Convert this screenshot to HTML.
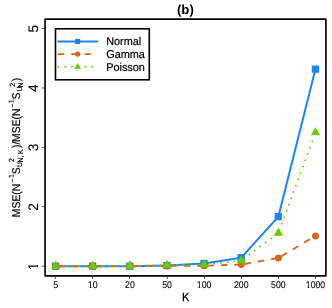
<!DOCTYPE html>
<html><head><meta charset="utf-8"><title>(b)</title>
<style>
html,body{margin:0;padding:0;background:#fff;}
body{width:332px;height:308px;overflow:hidden;}
svg{display:block;will-change:transform;}
text{text-rendering:geometricPrecision;font-family:"Liberation Sans",sans-serif;fill:#000;stroke:#000;stroke-width:0.25px;}
</style></head><body>
<svg width="332" height="308" viewBox="0 0 332 308">
<defs><clipPath id="c0"><path d="M-7.45,-11.76 H7.45 V-0.78 H-1.87 V1 H-3.24 V-0.78 H-7.45 Z M0.00,-0.88 H7.45 V3.92 H0.00 Z"/></clipPath><clipPath id="c1"><path d="M-10.18,-11.76 H10.18 V-0.78 H-4.59 V1 H-5.96 V-0.78 H-10.18 Z M-2.73,-0.88 H10.18 V3.92 H-2.73 Z"/></clipPath><clipPath id="c2"><path d="M-12.90,-11.76 H12.90 V-0.78 H-7.32 V1 H-8.69 V-0.78 H-12.90 Z M-5.45,-0.88 H12.90 V3.92 H-5.45 Z"/></clipPath><clipPath id="c3"><path d="M-5.84,-16.56 H5.84 V-1.08 H1.10 V1 H-0.62 V-1.08 H-5.84 Z M3.84,-1.18 H5.84 V5.52 H3.84 Z"/></clipPath><clipPath id="c4"><path d="M-2.00,-9.00 H6.17 V-0.61 H2.80 V1 H1.64 V-0.61 H-2.00 Z M4.17,-0.71 H6.17 V3.00 H4.17 Z"/></clipPath><clipPath id="c5"><path d="M-2.00,-9.00 H6.17 V-0.61 H2.80 V1 H1.64 V-0.61 H-2.00 Z M4.17,-0.71 H6.17 V3.00 H4.17 Z"/></clipPath></defs>
<rect x="0" y="0" width="332" height="308" fill="#fff"/>
<text transform="translate(185.40,14.40)" font-size="13.2" text-anchor="middle" font-weight="bold" style="stroke-width:0">(b)</text>
<polyline points="55.65,266.20 92.77,266.15 129.89,266.15 167.01,265.55 204.13,263.45 241.25,257.70 278.37,216.60 315.49,69.10" fill="none" stroke="#1C86EE" stroke-width="2.0" stroke-linejoin="round" stroke-linecap="round"/>
<line x1="59.65" y1="266.20" x2="88.77" y2="266.20" stroke="#D2691E" stroke-width="1.9" stroke-dasharray="5.05 8.45" stroke-linecap="round"/>
<line x1="96.77" y1="266.19" x2="125.89" y2="266.11" stroke="#D2691E" stroke-width="1.9" stroke-dasharray="5.05 8.45" stroke-linecap="round"/>
<line x1="133.89" y1="266.08" x2="163.01" y2="265.97" stroke="#D2691E" stroke-width="1.9" stroke-dasharray="5.05 8.45" stroke-linecap="round"/>
<line x1="171.01" y1="265.92" x2="200.13" y2="265.73" stroke="#D2691E" stroke-width="1.9" stroke-dasharray="5.05 8.45" stroke-linecap="round"/>
<line x1="208.13" y1="265.58" x2="237.25" y2="264.67" stroke="#D2691E" stroke-width="1.9" stroke-dasharray="5.05 8.45" stroke-linecap="round"/>
<line x1="245.19" y1="263.85" x2="274.43" y2="258.70" stroke="#D2691E" stroke-width="1.9" stroke-dasharray="5.05 8.45" stroke-linecap="round"/>
<line x1="281.81" y1="255.95" x2="312.05" y2="237.95" stroke="#D2691E" stroke-width="1.9" stroke-dasharray="5.05 8.45" stroke-linecap="round"/>
<line x1="59.00" y1="266.19" x2="89.42" y2="266.11" stroke="#66CD00" stroke-width="1.9" stroke-dasharray="0.01 6.74" stroke-linecap="round"/>
<line x1="96.12" y1="266.07" x2="126.54" y2="265.83" stroke="#66CD00" stroke-width="1.9" stroke-dasharray="0.01 6.74" stroke-linecap="round"/>
<line x1="133.24" y1="265.74" x2="163.66" y2="265.21" stroke="#66CD00" stroke-width="1.9" stroke-dasharray="0.01 6.74" stroke-linecap="round"/>
<line x1="170.36" y1="265.10" x2="200.78" y2="264.70" stroke="#66CD00" stroke-width="1.9" stroke-dasharray="0.01 6.74" stroke-linecap="round"/>
<line x1="207.46" y1="264.29" x2="237.92" y2="260.96" stroke="#66CD00" stroke-width="1.9" stroke-dasharray="0.01 6.74" stroke-linecap="round"/>
<line x1="243.94" y1="258.61" x2="275.68" y2="235.09" stroke="#66CD00" stroke-width="1.9" stroke-dasharray="0.01 6.74" stroke-linecap="round"/>
<line x1="279.53" y1="229.96" x2="314.33" y2="135.74" stroke="#66CD00" stroke-width="1.9" stroke-dasharray="0.01 6.74" stroke-linecap="round"/>
<rect x="51.91" y="262.56" width="7.28" height="7.28" fill="#1C86EE"/>
<rect x="89.03" y="262.51" width="7.28" height="7.28" fill="#1C86EE"/>
<rect x="126.15" y="262.51" width="7.28" height="7.28" fill="#1C86EE"/>
<rect x="163.27" y="261.91" width="7.28" height="7.28" fill="#1C86EE"/>
<rect x="200.39" y="259.81" width="7.28" height="7.28" fill="#1C86EE"/>
<rect x="237.51" y="254.06" width="7.28" height="7.28" fill="#1C86EE"/>
<rect x="274.63" y="212.96" width="7.28" height="7.28" fill="#1C86EE"/>
<rect x="311.75" y="65.46" width="7.28" height="7.28" fill="#1C86EE"/>
<circle cx="55.65" cy="266.20" r="3.50" fill="#D2691E"/>
<circle cx="92.77" cy="266.20" r="3.50" fill="#D2691E"/>
<circle cx="129.89" cy="266.10" r="3.50" fill="#D2691E"/>
<circle cx="167.01" cy="265.95" r="3.50" fill="#D2691E"/>
<circle cx="204.13" cy="265.70" r="3.50" fill="#D2691E"/>
<circle cx="241.25" cy="264.55" r="3.50" fill="#D2691E"/>
<circle cx="278.37" cy="258.00" r="3.50" fill="#D2691E"/>
<circle cx="315.49" cy="235.90" r="3.50" fill="#D2691E"/>
<polygon points="55.65,260.76 60.36,268.92 50.94,268.92" fill="#66CD00"/>
<polygon points="92.77,260.66 97.48,268.82 88.06,268.82" fill="#66CD00"/>
<polygon points="129.89,260.36 134.60,268.52 125.18,268.52" fill="#66CD00"/>
<polygon points="167.01,259.71 171.72,267.87 162.30,267.87" fill="#66CD00"/>
<polygon points="204.13,259.21 208.84,267.37 199.42,267.37" fill="#66CD00"/>
<polygon points="241.25,255.16 245.96,263.32 236.54,263.32" fill="#66CD00"/>
<polygon points="278.37,227.66 283.08,235.82 273.66,235.82" fill="#66CD00"/>
<polygon points="315.49,127.16 320.20,135.32 310.78,135.32" fill="#66CD00"/>
<rect x="45.05" y="19.15" width="280.85" height="256.75" fill="none" stroke="#000" stroke-width="1.65" stroke-linejoin="round"/>
<line x1="55.50" y1="276.5" x2="55.50" y2="278.9" stroke="#222" stroke-width="0.75"/>
<line x1="92.50" y1="276.5" x2="92.50" y2="278.9" stroke="#222" stroke-width="0.75"/>
<line x1="129.50" y1="276.5" x2="129.50" y2="278.9" stroke="#222" stroke-width="0.75"/>
<line x1="167.50" y1="276.5" x2="167.50" y2="278.9" stroke="#222" stroke-width="0.75"/>
<line x1="204.50" y1="276.5" x2="204.50" y2="278.9" stroke="#222" stroke-width="0.75"/>
<line x1="241.50" y1="276.5" x2="241.50" y2="278.9" stroke="#222" stroke-width="0.75"/>
<line x1="278.50" y1="276.5" x2="278.50" y2="278.9" stroke="#222" stroke-width="0.75"/>
<line x1="315.50" y1="276.5" x2="315.50" y2="278.9" stroke="#222" stroke-width="0.75"/>
<line x1="41.4" y1="266.20" x2="44.3" y2="266.20" stroke="#222" stroke-width="0.7"/>
<line x1="41.4" y1="206.78" x2="44.3" y2="206.78" stroke="#222" stroke-width="0.7"/>
<line x1="41.4" y1="147.36" x2="44.3" y2="147.36" stroke="#222" stroke-width="0.7"/>
<line x1="41.4" y1="87.94" x2="44.3" y2="87.94" stroke="#222" stroke-width="0.7"/>
<line x1="41.4" y1="28.52" x2="44.3" y2="28.52" stroke="#222" stroke-width="0.7"/>
<text transform="translate(55.65,288.00) scale(0.89,1)" font-size="9.8" text-anchor="middle" style="stroke-width:0.1">5</text>
<text transform="translate(92.77,288.00) scale(0.89,1)" font-size="9.8" text-anchor="middle" style="stroke-width:0.1" clip-path="url(#c0)">10</text>
<text transform="translate(129.89,288.00) scale(0.89,1)" font-size="9.8" text-anchor="middle" style="stroke-width:0.1">20</text>
<text transform="translate(167.01,288.00) scale(0.89,1)" font-size="9.8" text-anchor="middle" style="stroke-width:0.1">50</text>
<text transform="translate(204.13,288.00) scale(0.89,1)" font-size="9.8" text-anchor="middle" style="stroke-width:0.1" clip-path="url(#c1)">100</text>
<text transform="translate(241.25,288.00) scale(0.89,1)" font-size="9.8" text-anchor="middle" style="stroke-width:0.1">200</text>
<text transform="translate(278.37,288.00) scale(0.89,1)" font-size="9.8" text-anchor="middle" style="stroke-width:0.1">500</text>
<text transform="translate(315.49,288.00) scale(0.89,1)" font-size="9.8" text-anchor="middle" style="stroke-width:0.1" clip-path="url(#c2)">1000</text>
<text transform="translate(185.80,300.80) scale(0.94,1)" font-size="11.8" text-anchor="middle">K</text>
<text transform="translate(37.55,266.30) rotate(-90)" font-size="13.8" text-anchor="middle" style="stroke-width:0.1" clip-path="url(#c3)">1</text>
<text transform="translate(37.55,206.88) rotate(-90)" font-size="13.8" text-anchor="middle" style="stroke-width:0.1">2</text>
<text transform="translate(37.55,147.46) rotate(-90)" font-size="13.8" text-anchor="middle" style="stroke-width:0.1">3</text>
<text transform="translate(37.55,88.04) rotate(-90)" font-size="13.8" text-anchor="middle" style="stroke-width:0.1">4</text>
<text transform="translate(37.55,28.62) rotate(-90)" font-size="13.8" text-anchor="middle" style="stroke-width:0.1">5</text>
<text transform="translate(20.00,217.20) rotate(-90) scale(0.93,1)" font-size="11.2" style="stroke-width:0.18">MSE(N</text>
<text transform="translate(15.20,182.40) rotate(-90) scale(0.93,1)" font-size="7.5" style="stroke-width:0.18">−</text>
<text transform="translate(14.00,178.10) rotate(-90) scale(0.93,1)" font-size="7.5" style="stroke-width:0.18" clip-path="url(#c4)">1</text>
<text transform="translate(20.10,174.30) rotate(-90) scale(0.93,1)" font-size="11.2" style="stroke-width:0.18">S</text>
<text transform="translate(21.90,167.10) rotate(-90) scale(0.93,1)" font-size="7.5" style="stroke-width:0.18">U</text>
<text transform="translate(23.30,162.60) rotate(-90) scale(0.93,1)" font-size="7.5" style="stroke-width:0.18">N,</text>
<text transform="translate(23.30,154.00) rotate(-90) scale(0.93,1)" font-size="7.5" style="stroke-width:0.18">K</text>
<text transform="translate(14.30,161.90) rotate(-90) scale(0.93,1)" font-size="7.5" style="stroke-width:0.18">2</text>
<text transform="translate(20.00,148.10) rotate(-90) scale(0.93,1)" font-size="11.2" style="stroke-width:0.18">)</text>
<text transform="translate(20.00,144.60) rotate(-90) scale(0.93,1)" font-size="11.2" style="stroke-width:0.18">/</text>
<text transform="translate(20.00,141.95) rotate(-90) scale(0.93,1)" font-size="11.2" style="stroke-width:0.18">MSE(N</text>
<text transform="translate(15.20,107.60) rotate(-90) scale(0.93,1)" font-size="7.5" style="stroke-width:0.18">−</text>
<text transform="translate(14.00,103.30) rotate(-90) scale(0.93,1)" font-size="7.5" style="stroke-width:0.18" clip-path="url(#c5)">1</text>
<text transform="translate(20.10,99.40) rotate(-90) scale(0.93,1)" font-size="11.2" style="stroke-width:0.18">S</text>
<text transform="translate(21.90,91.50) rotate(-90) scale(0.93,1)" font-size="7.5" style="stroke-width:0.18">U</text>
<text transform="translate(23.30,87.40) rotate(-90) scale(0.93,1)" font-size="7.5" style="stroke-width:0.18">N</text>
<text transform="translate(14.70,86.65) rotate(-90) scale(0.93,1)" font-size="7.5" style="stroke-width:0.18">2</text>
<text transform="translate(20.00,81.20) rotate(-90) scale(0.93,1)" font-size="11.2" style="stroke-width:0.18">)</text>
<rect x="55.5" y="28.8" width="93.8" height="51" fill="#fff" stroke="#000" stroke-width="1.6"/>
<line x1="58.2" y1="41.5" x2="97.5" y2="41.5" stroke="#1C86EE" stroke-width="2" stroke-linecap="round"/>
<line x1="58.4" y1="54.1" x2="97.2" y2="54.1" stroke="#D2691E" stroke-width="1.9" stroke-dasharray="5.05 8.45" stroke-linecap="round"/>
<line x1="58.5" y1="66.7" x2="97.2" y2="66.7" stroke="#66CD00" stroke-width="1.9" stroke-dasharray="0.01 6.74" stroke-linecap="round"/>
<rect x="75.00" y="38.90" width="5.20" height="5.20" fill="#1C86EE"/>
<circle cx="77.70" cy="54.10" r="2.70" fill="#D2691E"/>
<polygon points="77.70,63.01 81.07,68.84 74.33,68.84" fill="#66CD00"/>
<text transform="translate(106.20,45.40) scale(0.963,1)" font-size="11.3" style="stroke-width:0.2">Normal</text>
<text transform="translate(106.20,58.30) scale(0.963,1)" font-size="11.3" style="stroke-width:0.2">Gamma</text>
<text transform="translate(106.20,70.80) scale(0.963,1)" font-size="11.3" style="stroke-width:0.2">Poisson</text>
</svg></body></html>
